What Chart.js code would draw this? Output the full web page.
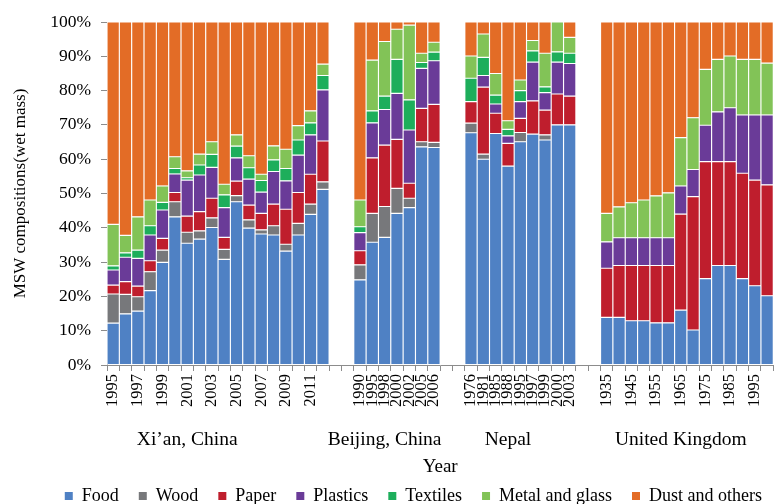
<!DOCTYPE html>
<html>
<head>
<meta charset="utf-8">
<script src="https://cdn.jsdelivr.net/npm/chart.js@4.4.1/dist/chart.umd.min.js"></script>
<style>
html,body{margin:0;padding:0;background:#fff;overflow:hidden;width:776px;height:504px;}
#wrap{position:absolute;left:0;top:0;width:790px;height:504px;}
</style>
</head>
<body>
<div id="wrap"><canvas id="c" width="790" height="504"></canvas></div>
<script>
// ---- Categories (one slot per bar; two empty slots between regions) ----
const xianYears    = [1995,1996,1997,1998,1999,2000,2001,2002,2003,2004,2005,2006,2007,2008,2009,2010,2011,2012];
const beijingYears = [1990,1995,1998,2000,2002,2005,2006];
const nepalYears   = [1976,1981,1985,1988,1995,1997,1999,2000,2003];
const ukYears      = [1935,1940,1945,1950,1955,1960,1965,1970,1975,1980,1985,1990,1995,2000];

const categories = [
  ...xianYears.map(y => "Xi'an " + y), "gap-1a", "gap-1b",
  ...beijingYears.map(y => "Beijing " + y), "gap-2a", "gap-2b",
  ...nepalYears.map(y => "Nepal " + y), "gap-3a", "gap-3b",
  ...ukYears.map(y => "UK " + y)
];

// ---- Tick labels shown under the bars ----
const xTickLabels = [
  '1995','','1997','','1999','','2001','','2003','','2005','','2007','','2009','','2011','',
  '','',
  '1990','1995','1998','2000','2002','2005','2006',
  '','',
  '1976','1981','1985','1988','1995','1997','1999','2000','2003',
  '','',
  '1935','','1945','','1955','','1965','','1975','','1985','','1995',''
];
const groupNames = ["Xi\u2019an, China", "Beijing, China", "Nepal", "United Kingdom"];
const groupLabelSlot = [6, 22, 32, 46];

// ---- Series values (% wet mass), null = empty slot ----
const food = [
  12.2,14.9,15.7,21.7,29.9,43.2,35.5,36.7,40.1,30.8,47.6,39.9,38.2,37.9,33.2,37.9,43.9,51.2,
  null,null,
  24.8,35.8,37.2,44.2,45.9,63.6,63.4,
  null,null,
  67.7,60.0,67.5,58.0,65.1,67.3,65.6,70.0,70.0,
  null,null,
  13.9,13.9,12.9,12.9,12.3,12.3,16.0,10.2,25.2,29.0,29.0,25.2,23.1,20.2
];
const wood = [
  8.5,5.7,4.2,5.5,3.6,4.4,3.2,2.4,2.8,2.9,1.8,2.4,1.2,2.7,2.0,3.4,3.0,2.2,
  null,null,
  4.4,8.4,9.0,7.3,2.7,1.5,1.5,
  null,null,
  2.8,1.5,0,0,2.7,0,1.5,0,0,
  null,null,
  0,0,0,0,0,0,0,0,0,0,0,0,0,0
];
const paper = [
  2.6,3.7,3.1,3.2,3.4,2.7,4.7,5.6,5.7,3.5,4.2,4.3,4.8,6.3,10.2,9.0,8.7,11.9,
  null,null,
  4.1,16.2,17.9,14.3,4.4,9.7,11.1,
  null,null,
  6.3,19.5,5.9,6.6,4.1,9.7,7.2,9.0,8.4,
  null,null,
  14.3,15.1,16.1,16.1,16.7,16.7,28.0,38.9,34.1,30.3,30.3,30.7,30.8,32.3
];
const plastics = [
  4.4,7.1,8.1,7.5,8.3,5.4,10.5,10.7,9.0,8.7,6.8,7.6,6.2,9.5,8.3,10.9,11.5,14.9,
  null,null,
  5.3,10.2,10.4,13.4,15.5,11.7,12.7,
  null,null,
  0,3.4,2.7,2.2,4.9,11.3,5.1,9.3,9.5,
  null,null,
  7.7,8.1,8.1,8.1,8.1,8.1,8.2,7.9,10.6,14.5,15.7,17.0,19.0,20.4
];
const textiles = [
  1.2,1.3,2.4,2.7,2.2,1.6,0.7,2.9,3.8,3.7,3.4,3.3,3.4,3.4,3.6,4.4,3.5,4.2,
  null,null,
  1.7,3.5,3.9,9.9,8.8,1.7,2.5,
  null,null,
  6.8,5.3,2.6,1.9,3.2,3.3,1.7,3.0,3.0,
  null,null,
  0,0,0,0,0,0,0,0,0,0,0,0,0,0
];
const metalGlass = [
  12.1,5.1,9.7,7.5,4.8,3.4,2.0,3.2,3.7,3.1,3.3,3.5,1.8,4.1,5.6,4.2,3.5,3.3,
  null,null,
  7.8,14.8,15.9,8.8,21.8,2.7,2.9,
  null,null,
  6.5,6.8,6.3,2.5,3.1,3.0,9.8,8.7,4.6,
  null,null,
  8.3,9.0,10.2,11.0,12.2,13.1,14.1,15.1,16.3,15.3,15.1,16.2,16.2,15.1
];
const dustOthers = [
  59.0,62.2,56.8,51.9,47.8,39.3,43.4,38.5,34.9,47.3,32.9,39.0,44.4,36.1,37.1,30.2,25.9,12.3,
  null,null,
  51.9,11.1,5.7,2.1,0.9,9.1,5.9,
  null,null,
  9.9,3.5,15.0,28.8,16.9,5.4,9.1,0,4.5,
  null,null,
  55.8,53.9,52.7,51.9,50.7,49.8,33.7,27.9,13.8,10.9,9.9,10.9,10.9,12.0
];

const seriesNames  = ['Food','Wood','Paper','Plastics','Textiles','Metal and glass','Dust and others'];
const seriesValues = [food, wood, paper, plastics, textiles, metalGlass, dustOthers];
const seriesColors = ['#4F81C4','#77787B','#BF1E2D','#6A3B98','#1DAE5B','#82C357','#E36C26'];

const groupLabelText = categories.map((_, i) => {
  const k = groupLabelSlot.indexOf(i);
  return k >= 0 ? groupNames[k] : '';
});

Chart.defaults.font.family = "'Liberation Serif', 'Times New Roman', serif";
Chart.defaults.color = '#000';

const axisGray = '#8c8c8c';

new Chart(document.getElementById('c'), {
  type: 'bar',
  data: {
    labels: categories,
    datasets: seriesNames.map((name, k) => ({
      label: name,
      data: seriesValues[k],
      backgroundColor: seriesColors[k],
      borderColor: '#ffffff',
      borderWidth: 0.9,
      borderSkipped: false,
      barPercentage: 1,
      categoryPercentage: 1
    }))
  },
  options: {
    responsive: false,
    animation: false,
    devicePixelRatio: 1,
    layout: { padding: { top: 22, right: 8, bottom: 0, left: 0 } },
    plugins: {
      tooltip: { enabled: false },
      legend: {
        position: 'bottom',
        align: 'end',
        maxHeight: 37,
        labels: {
          boxWidth: 8,
          boxHeight: 8,
          padding: 20,
          color: '#000',
          font: { size: 18 },
          generateLabels: (chart) =>
            Chart.defaults.plugins.legend.labels.generateLabels(chart).map(l => ({ ...l, lineWidth: 0 }))
        }
      }
    },
    scales: {
      x: {
        type: 'category',
        stacked: true,
        offset: true,
        weight: 0,
        grid: { display: true, drawOnChartArea: false, drawTicks: true, tickLength: 6, offset: true, color: axisGray },
        border: { display: true, color: axisGray, width: 1 },
        ticks: {
          autoSkip: false, minRotation: 90, maxRotation: 90, padding: 3,
          font: { size: 16.5 }, color: '#000',
          callback: (v, i) => xTickLabels[i]
        },
        afterFit: s => { s.height = 58; }
      },
      x2: {
        type: 'category',
        position: 'bottom',
        offset: true,
        weight: 1,
        grid: { display: false, drawTicks: false },
        border: { display: false },
        ticks: {
          autoSkip: false, minRotation: 0, maxRotation: 0, padding: 5,
          font: { size: 19.5 }, color: '#000',
          callback: (v, i) => groupLabelText[i]
        },
        title: { display: true, text: 'Year', color: '#000', font: { size: 19 }, padding: { top: 0, bottom: -11 } },
        afterFit: s => { s.height = 44; }
      },
      y: {
        stacked: true,
        min: 0,
        max: 100,
        grid: { drawOnChartArea: false, tickLength: 6, color: axisGray },
        border: { display: true, color: axisGray, width: 1 },
        ticks: { stepSize: 10, padding: 10, font: { size: 17.5 }, color: '#000', callback: v => v + '%' },
        title: { display: true, text: 'MSW compositions(wet mass)', color: '#000', font: { size: 17 }, padding: { top: 10, bottom: 0 } },
        afterFit: s => { s.width = 107; }
      }
    }
  }
});
</script>
</body>
</html>
